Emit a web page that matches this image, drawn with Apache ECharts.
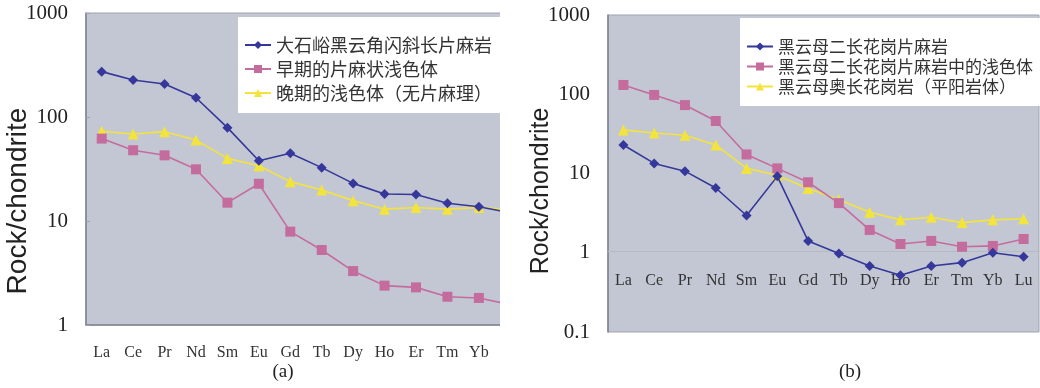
<!DOCTYPE html>
<html>
<head>
<meta charset="utf-8">
<script src="https://cdn.jsdelivr.net/npm/echarts@6/dist/echarts.min.js"></script>
<style>
html,body{margin:0;padding:0;background:#ffffff;}
#wrapA{position:absolute;left:0;top:0;width:500px;height:388px;overflow:hidden;}
#chartA{position:absolute;left:0;top:0;width:540px;height:388px;}
#chartB{position:absolute;left:520px;top:0;width:520px;height:388px;}
</style>
</head>
<body>
<div id="wrapA"><div id="chartA"></div></div>
<div id="chartB"></div>
<script>
// ---- data ----
const categories = ['La','Ce','Pr','Nd','Sm','Eu','Gd','Tb','Dy','Ho','Er','Tm','Yb','Lu'];

const namesA = ['大石峪黑云角闪斜长片麻岩','早期的片麻状浅色体','晚期的浅色体（无片麻理）'];
const a_gneiss = [273,227,208,153,79,38,44.8,32.6,23,18.2,18,14.8,13.7,12.0];
const a_early  = [62,47.9,42.8,31.4,15,22.8,7.9,5.26,3.3,2.39,2.3,1.87,1.82,1.57];
const a_late   = [73,68.7,72.3,60,40,34,23.9,19.9,15.7,13,13.5,13,13.5,12.9];

const namesB = ['黑云母二长花岗片麻岩','黑云母二长花岗片麻岩中的浅色体','黑云母奥长花岗岩（平阳岩体）'];
const b_gneiss = [22.9,13.4,10.7,6.56,2.95,9.2,1.41,0.98,0.68,0.52,0.68,0.75,1.0,0.89];
const b_leuco  = [131,98,73,46,17.4,11.6,7.75,4.23,1.94,1.29,1.41,1.19,1.22,1.49];
const b_tona   = [35.5,32.5,30.4,22.9,11.6,9.5,6.45,4.67,3.25,2.6,2.81,2.4,2.6,2.68];

const yTitle = 'Rock/chondrite';
const captions = ['(a)','(b)'];

// ---- styles ----
const colors = ['#35379a','#c46c9e','#f2e43c'];
const symbols = ['diamond','rect','triangle'];
const symbolSizes = [10,10,11];
const serif = 'Liberation Serif';
const fmt = v => String(Math.round(v * 10) / 10);

function mkSeries(names, datas){
  return names.map((n,i)=>({
    name:n, type:'line', data:datas[i], symbol:symbols[i], symbolSize:symbolSizes[i],
    itemStyle:{color:colors[i]}, lineStyle:{color:colors[i], width:1.6}, clip:true,
    z: 3 - i
  }));
}

// ---- chart A ----
const chartA = echarts.init(document.getElementById('chartA'), null, {renderer:'canvas'});
chartA.setOption({
  animation:false,
  grid:{left:86, top:13, width:440, height:312, show:true, backgroundColor:'#c3c7d3', borderColor:'#9ea3ae', borderWidth:1},
  legend:{
    orient:'vertical', left:238, top:17, data:namesA,
    backgroundColor:'#ffffff', borderWidth:0, padding:[19,30,11,6],
    itemWidth:26, itemHeight:10, itemGap:6,
    textStyle:{fontFamily:'Noto Sans CJK SC', fontSize:18, color:'#333'}
  },
  xAxis:{
    type:'category', data:categories, boundaryGap:true,
    axisLine:{lineStyle:{color:'#7d838e', width:1.5}},
    axisTick:{inside:true, length:5, lineStyle:{color:'#8a8f9a'}},
    axisLabel:{fontFamily:serif, fontSize:16, color:'#333', margin:20}
  },
  yAxis:{
    type:'log', logBase:10, min:1, max:1000,
    axisLine:{show:true, lineStyle:{color:'#7d838e', width:1.5}},
    axisTick:{show:true, inside:true, length:4, lineStyle:{color:'#9ea3ae'}},
    splitLine:{show:false},
    axisLabel:{fontFamily:serif, fontSize:21, color:'#222', margin:18, formatter:fmt}
  },
  graphic:[
    {type:'text', x:18, y:201, rotation:Math.PI/2,
     style:{text:yTitle, font:'28px "Liberation Sans"', fill:'#222', textAlign:'center', textVerticalAlign:'middle'}},
    {type:'text', x:283, y:372,
     style:{text:captions[0], font:'19px "Liberation Serif"', fill:'#222', textAlign:'center', textVerticalAlign:'middle'}}
  ],
  series: mkSeries(namesA, [a_gneiss, a_early, a_late])
});

// ---- chart B ----
const chartB = echarts.init(document.getElementById('chartB'), null, {renderer:'canvas'});
chartB.setOption({
  animation:false,
  grid:{left:88, top:15, width:431, height:317, show:true, backgroundColor:'#c3c7d3', borderColor:'#9ea3ae', borderWidth:1},
  legend:{
    orient:'vertical', left:220, top:18, data:namesB,
    backgroundColor:'#ffffff', borderWidth:0, padding:[20,30,11,6],
    itemWidth:26, itemHeight:10, itemGap:3,
    textStyle:{fontFamily:'Noto Sans CJK SC', fontSize:17, color:'#333'}
  },
  xAxis:{
    type:'category', data:categories, boundaryGap:true, offset:-81,
    axisLine:{lineStyle:{color:'#b6bac5', width:1}},
    axisTick:{inside:true, length:5, lineStyle:{color:'#9a9fab'}},
    axisLabel:{fontFamily:serif, fontSize:16, color:'#333', margin:22}
  },
  yAxis:{
    type:'log', logBase:10, min:0.1, max:1000,
    axisLine:{show:true, lineStyle:{color:'#7d838e', width:1.5}},
    axisTick:{show:false},
    splitLine:{show:false},
    axisLabel:{fontFamily:serif, fontSize:21, color:'#222', margin:18, formatter:fmt}
  },
  graphic:[
    {type:'text', x:21, y:191, rotation:Math.PI/2,
     style:{text:yTitle, font:'25px "Liberation Sans"', fill:'#222', textAlign:'center', textVerticalAlign:'middle'}},
    {type:'text', x:330, y:372,
     style:{text:captions[1], font:'19px "Liberation Serif"', fill:'#222', textAlign:'center', textVerticalAlign:'middle'}}
  ],
  series: mkSeries(namesB, [b_gneiss, b_leuco, b_tona])
});
</script>
</body>
</html>
